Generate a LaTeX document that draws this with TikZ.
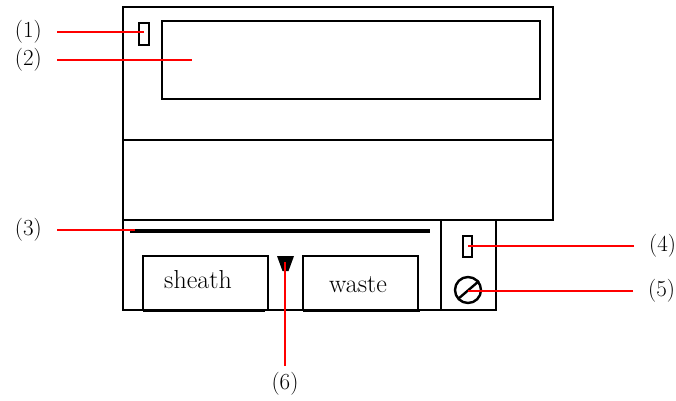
\documentclass[tikz,border=0pt]{standalone}
\begin{document}
\begin{tikzpicture}[x=1pt,y=-1pt,
  box/.style={draw=black, line width=1.4pt, inner sep=0pt, outer sep=0pt, anchor=north west},
  ledbox/.style={draw=black, line width=2.4pt, inner sep=0pt, outer sep=0pt},
  lead/.style={draw=red, line width=1.4pt},
  lbl/.style={font=\fontsize{23}{26}\selectfont, inner ysep=0pt, inner xsep=15pt},
  word/.style={font=\fontsize{26}{28}\selectfont, inner sep=0pt}]
\useasboundingbox (0,0) rectangle (676,400);

% upper housing with display window
\node[box, minimum width=430pt, minimum height=213pt] (housing) at (123,7) {};
\draw[black, line width=1.4pt] (housing.west |- 0,140) -- (housing.east |- 0,140);
\node[box, minimum width=378pt, minimum height=78pt] (display) at (162,21) {};
\node[ledbox, minimum width=10pt, minimum height=22pt] (led1) at (144,34) {};

% lower tray and side panel
\node[box, minimum width=318pt, minimum height=90pt] (tray) at (123,220) {};
\node[box, minimum width=55pt, minimum height=90pt] (panel) at (441,220) {};

% bar across the tray
\coordinate (barL) at (130,231);
\coordinate (barR) at (430,231);
\draw[black, line width=3.2pt] (barL) -- (barR);

% bottle bays
\node[box, minimum width=125pt, minimum height=54pt] (sheathbay) at (143,256) {};
\node[box, minimum width=115pt, minimum height=54pt] (wastebay) at (303,256) {};
\draw[black, line width=2.6pt] ([yshift=-1pt]sheathbay.south west) -- ([yshift=-1pt,xshift=-3pt]sheathbay.south east);
\draw[black, line width=2.6pt] ([yshift=-1pt]wastebay.south west) -- ([yshift=-1pt,xshift=2pt]wastebay.south east);
\node[word] (sheathtxt) at (198,280) {sheath};
\node[word] (wastetxt) at (358,285) {waste};

% drip marker between the bays
\fill[black] (277,256) -- (294,256) -- (288.5,271) -- (282.5,271) -- cycle;
\coordinate (drip) at (285,262);

% side panel indicator and switch
\node[ledbox, minimum width=9pt, minimum height=21pt] (led4) at (467.5,246.5) {};
\node[draw=black, line width=2.4pt, circle, minimum size=26pt, inner sep=0pt] (knob) at (468,290) {};
\draw[black, line width=2.4pt] (458,299) -- (479,281);

% callouts
\node[lbl, anchor=east] (l1) at (57,32) {(1)};
\node[lbl, anchor=east] (l2) at (57,60) {(2)};
\node[lbl, anchor=east] (l3) at (57,230) {(3)};
\node[lbl, anchor=west] (l4) at (634,246) {(4)};
\node[lbl, anchor=west] (l5) at (633,291) {(5)};
\node[lbl, anchor=north, inner ysep=6pt, inner xsep=0pt] (l6) at (285,366) {(6)};

\draw[lead] (l1.east) -- (l1.east -| led1.center);
\draw[lead] (l2.east) -- ([xshift=30pt]l2.east -| display.west);
\draw[lead] (l3.east) -- ([xshift=5pt]l3.east -| barL);
\draw[lead] (l4.west) -- (l4.west -| led4.center);
\draw[lead] (l5.west) -- (l5.west -| knob.center);
\draw[lead] (l6.north) -- (drip);
\end{tikzpicture}
\end{document}
